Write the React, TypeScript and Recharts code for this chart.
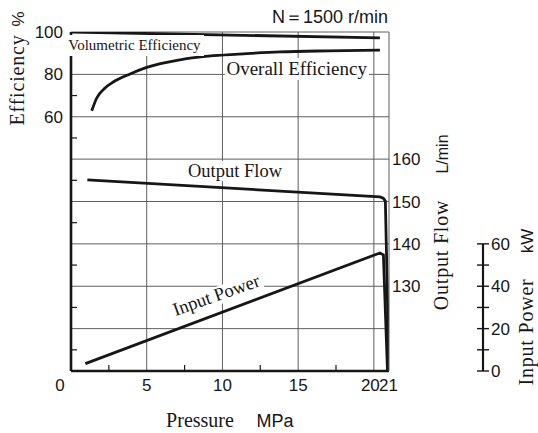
import React from 'react';
import { ComposedChart, Line, XAxis, YAxis, CartesianGrid } from 'recharts';

// ---- axis ticks / labels ----
const pressureTicks = [0, 2.5, 5, 7.5, 10, 12.5, 15, 17.5, 20, 21];
const pressureLabels = [0, 5, 10, 15, 20, 21];
const effTicks = [-60, -50, -40, -30, -20, -10, 0, 10, 20, 30, 40, 50, 60, 70, 80, 90, 100];
const effLabels = [60, 80, 100];
const effGrid = [-40, -20, 0, 20, 40, 60, 80, 100];
const pressureGrid = [5, 10, 15, 20];
const flowTicks = [130, 140, 150, 160];
const powerTicks = [0, 10, 20, 30, 40, 50, 60];
const powerLabels = [0, 20, 40, 60];

// ---- series ----
const volPressure = [0, 20.4];
const volEff = [100, 97.2];

const overallPressure = [1.37, 1.7, 2.25, 2.79, 3.9, 5.0, 7.2, 9.4, 11.6, 13.8, 17.0, 20.4];
const overallEff = [62.85, 68.85, 73.6, 76.4, 80.2, 83.3, 86.9, 88.8, 89.8, 90.6, 91.1, 91.4];

const flowPressure = [1.08, 20.4, 20.62, 20.76, 21.0];
const flowValues = [155.1, 151.1, 150.8, 150.1, 110];

const powerPressure = [0.95, 20.4, 20.63, 20.9];
const powerValues = [3.5, 55.7, 54.8, 0];

const zip = (xs: number[], ys: number[]) => xs.map((x, i) => ({ p: x, v: ys[i] }));
const volData = zip(volPressure, volEff);
const overallData = zip(overallPressure, overallEff);
const flowData = zip(flowPressure, flowValues);
const powerData = zip(powerPressure, powerValues);

const W = 538;
const H = 433;
const TOP = 32;
const XAXIS_H = 62;
const PLOT_H = H - TOP - XAXIS_H;
const POWER_DOMAIN: [number, number] = [0, 160];
const PX_PER_KW = PLOT_H / (POWER_DOMAIN[1] - POWER_DOMAIN[0]);

const serif = "'Liberation Serif', 'Times New Roman', serif";
const sans = "'Liberation Sans', Arial, Helvetica, sans-serif";
const INK = '#161616';
const GRID = '#5e5e5e';

const XTick = (props: any) => {
  const { x, y, payload } = props;
  const v = payload.value;
  if (!pressureLabels.includes(v)) {
    return <line x1={x} x2={x} y1={y} y2={y - 6} stroke={INK} strokeWidth={1.2} />;
  }
  const dx = v === 0 ? -11 : v === 20 ? -3.5 : v === 21 ? -0.5 : 0;
  return (
    <text x={x + dx} y={y + 20} textAnchor="middle" fontFamily={sans} fontSize={17} fill={INK}>
      {v}
    </text>
  );
};

const EffTick = (props: any) => {
  const { x, y, payload } = props;
  const v = payload.value;
  if (v % 20 !== 0) {
    return <line x1={x} x2={x + 6} y1={y} y2={y} stroke={INK} strokeWidth={1.2} />;
  }
  if (!effLabels.includes(v)) return <g />;
  return (
    <text x={x - 8} y={y + 6} textAnchor="end" fontFamily={sans} fontSize={17} fill={INK}>
      {v}
    </text>
  );
};

const FlowTick = (props: any) => {
  const { x, y, payload } = props;
  return (
    <text x={x + 3} y={y + 6} textAnchor="start" fontFamily={sans} fontSize={17} fill={INK}>
      {payload.value}
    </text>
  );
};

const PowerTick = (props: any) => {
  const { x, y, payload } = props;
  const v = payload.value;
  const seg = v < 60 ? 10 * PX_PER_KW : 0;
  return (
    <g>
      <line x1={x - 6} x2={x + 6} y1={y} y2={y} stroke={INK} strokeWidth={1.4} />
      {seg > 0 && <line x1={x} x2={x} y1={y} y2={y - seg} stroke={INK} strokeWidth={2.2} />}
      {powerLabels.includes(v) && (
        <text x={x + 8} y={y + 6} textAnchor="start" fontFamily={sans} fontSize={17} fill={INK}>
          {v}
        </text>
      )}
    </g>
  );
};

export default function App() {
  return (
    <div style={{ position: 'absolute', left: 0, top: 0, width: W, height: H, background: '#fff' }}>
      <ComposedChart width={W} height={H} margin={{ top: TOP, right: 0, bottom: 0, left: 0 }}>
        <CartesianGrid
          horizontalValues={effGrid}
          verticalValues={pressureGrid}
          stroke={GRID}
          strokeWidth={1}
        />
        <XAxis
          dataKey="p"
          type="number"
          domain={[0, 21]}
          ticks={pressureTicks}
          interval={0}
          height={XAXIS_H}
          tickSize={0}
          tickMargin={0}
          axisLine={{ stroke: INK, strokeWidth: 2.6 }}
          tickLine={false}
          tick={<XTick />}
          allowDataOverflow
        />
        <YAxis
          type="number"
          domain={[-60, 100]}
          ticks={effTicks}
          interval={0}
          width={71}
          tickSize={0}
          tickMargin={0}
          axisLine={{ stroke: INK, strokeWidth: 2.6 }}
          tickLine={false}
          tick={<EffTick />}
          allowDataOverflow
        />
        <YAxis
          yAxisId="flow"
          orientation="right"
          type="number"
          domain={[110, 190]}
          ticks={flowTicks}
          interval={0}
          width={94}
          tickSize={0}
          tickMargin={0}
          axisLine={{ stroke: GRID, strokeWidth: 1 }}
          tickLine={false}
          tick={<FlowTick />}
          allowDataOverflow
        />
        <YAxis
          yAxisId="power"
          orientation="right"
          type="number"
          domain={POWER_DOMAIN}
          ticks={powerTicks}
          interval={0}
          width={55}
          tickSize={0}
          tickMargin={0}
          axisLine={false}
          tickLine={false}
          tick={<PowerTick />}
          allowDataOverflow
        />
        <Line data={volData} dataKey="v" type="linear" stroke={INK} strokeWidth={2.8} dot={false} isAnimationActive={false} />
        <Line data={overallData} dataKey="v" type="monotone" stroke={INK} strokeWidth={2.8} dot={false} isAnimationActive={false} />
        <Line data={flowData} yAxisId="flow" dataKey="v" type="linear" stroke={INK} strokeWidth={2.8} dot={false} isAnimationActive={false} />
        <Line data={powerData} yAxisId="power" dataKey="v" type="linear" stroke={INK} strokeWidth={2.8} dot={false} isAnimationActive={false} />
      </ComposedChart>
      <svg
        width={W}
        height={H}
        style={{ position: 'absolute', left: 0, top: 0, pointerEvents: 'none' }}
      >
        <text x={388} y={23} textAnchor="end" fontFamily={sans} fontSize={18} fill={INK}>
          N＝1500 r/min
        </text>

        <text transform="translate(24,19) rotate(-90)" textAnchor="middle" fontFamily={sans} fontSize={17} fill={INK}>%</text>
        <text transform="translate(23.5,80) rotate(-90)" textAnchor="middle" fontFamily={serif} fontSize={20} letterSpacing={0.8} fill={INK}>Efficiency</text>

        <text transform="translate(448,154) rotate(-90)" textAnchor="middle" fontFamily={sans} fontSize={16} fill={INK}>L/min</text>
        <text transform="translate(448,255) rotate(-90)" textAnchor="middle" fontFamily={serif} fontSize={20} letterSpacing={0.8} fill={INK}>Output Flow</text>

        <text transform="translate(533,241) rotate(-90)" textAnchor="middle" fontFamily={sans} fontSize={17} fill={INK}>kW</text>
        <text transform="translate(533,332) rotate(-90)" textAnchor="middle" fontFamily={serif} fontSize={20} letterSpacing={0.8} fill={INK}>Input Power</text>

        <text x={200} y={427} textAnchor="middle" fontFamily={serif} fontSize={20} fill={INK}>Pressure</text>
        <text x={275} y={427} textAnchor="middle" fontFamily={sans} fontSize={18} fill={INK}>MPa</text>

        <rect x={66} y={35} width={138} height={21} fill="#fff" />
        <text x={68.3} y={50} textAnchor="start" fontFamily={serif} fontSize={15} fill={INK}>Volumetric Efficiency</text>

        <rect x={225} y={58} width={144} height={22} fill="#fff" />
        <text x={296.7} y={75} textAnchor="middle" fontFamily={serif} fontSize={19} fill={INK}>Overall Efficiency</text>

        <rect x={186} y={161} width={98} height={20} fill="#fff" />
        <text x={235} y={176.5} textAnchor="middle" fontFamily={serif} fontSize={18.5} fill={INK}>Output Flow</text>

        <g transform="translate(218.3,300.8) rotate(-19.5)">
          <rect x={-48} y={-14} width={96} height={18} fill="#fff" />
          <text x={0} y={0} textAnchor="middle" fontFamily={serif} fontSize={18.5} fill={INK}>Input Power</text>
        </g>
      </svg>
    </div>
  );
}
